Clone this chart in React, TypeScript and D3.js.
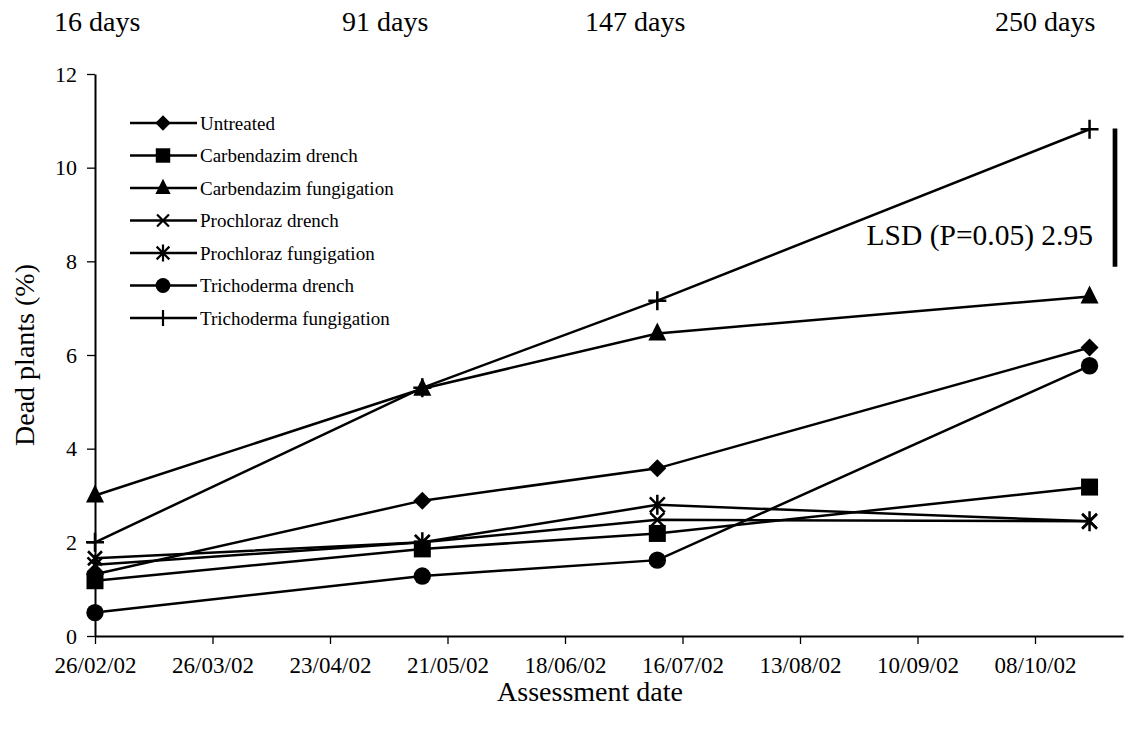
import React, { useEffect, useRef } from "react";
import * as d3 from "d3";

// Assessment dates and treatment series (% dead plants)
const assessmentDates = ["2002-02-26", "2002-05-15", "2002-07-10", "2002-10-21"];
const untreated = [1.32, 2.89, 3.58, 6.16];
const carbendazimDrench = [1.18, 1.86, 2.19, 3.18];
const carbendazimFungigation = [3.0, 5.28, 6.46, 7.25];
const prochlorazDrench = [1.66, 2.0, 2.48, 2.45];
const prochlorazFungigation = [1.52, 2.0, 2.8, 2.45];
const trichodermaDrench = [0.5, 1.28, 1.62, 5.77];
const trichodermaFungigation = [2.0, 5.3, 7.16, 10.82];

const seriesNames = [
  "Untreated",
  "Carbendazim drench",
  "Carbendazim fungigation",
  "Prochloraz drench",
  "Prochloraz fungigation",
  "Trichoderma drench",
  "Trichoderma fungigation",
];
const seriesValues = [
  untreated,
  carbendazimDrench,
  carbendazimFungigation,
  prochlorazDrench,
  prochlorazFungigation,
  trichodermaDrench,
  trichodermaFungigation,
];
const markerKinds = ["diamond", "square", "triangle", "x", "asterisk", "circle", "plus"];

const xTickDates = [
  "2002-02-26", "2002-03-26", "2002-04-23", "2002-05-21", "2002-06-18",
  "2002-07-16", "2002-08-13", "2002-09-10", "2002-10-08",
];
const yTicks = [0, 2, 4, 6, 8, 10, 12];
const dayLabels = ["16 days", "91 days", "147 days", "250 days"];
const lsdValue = 2.95;
const lsdCentre = 9.36;

const W = 1124;
const H = 731;
const FONT = "'Liberation Serif', 'Times New Roman', serif";

function markerPath(kind: string): { d: string; fill: boolean } {
  switch (kind) {
    case "diamond":
      return { d: "M0,-9L9,0L0,9L-9,0Z", fill: true };
    case "square":
      return { d: "M-8.5,-8.5H8.5V8.5H-8.5Z", fill: true };
    case "triangle":
      return { d: "M0,-11L9,7L-9,7Z", fill: true };
    case "circle":
      return {
        d: d3.arc()({ innerRadius: 0, outerRadius: 8.7, startAngle: 0, endAngle: 2 * Math.PI }) as string,
        fill: true,
      };
    case "x":
      return { d: "M-7,-7L7,7M-7,7L7,-7", fill: false };
    case "asterisk":
      return { d: "M-7.5,-7.5L7.5,7.5M-7.5,7.5L7.5,-7.5M0,-10V10", fill: false };
    case "plus":
      return { d: "M-9,0H9M0,-9.5V9.5", fill: false };
  }
  return { d: "", fill: true };
}

export default function App() {
  const ref = useRef<SVGSVGElement | null>(null);

  useEffect(() => {
    const svg = d3.select(ref.current);
    svg.selectAll("*").remove();

    const parse = d3.timeParse("%Y-%m-%d");
    const fmt = d3.timeFormat("%d/%m/%y");
    const x0 = parse("2002-02-26") as Date;
    const spanDays = 245;
    const pxPerDay = 117.5 / 28;
    const x1 = d3.timeDay.offset(x0, spanDays);

    const x = d3.scaleTime().domain([x0, x1]).range([95, 95 + spanDays * pxPerDay]);
    const y = d3.scaleLinear().domain([0, 12]).range([636, 74]);

    const g = svg.append("g");

    // Axes
    const xAxis = d3
      .axisBottom(x)
      .tickValues(xTickDates.map((s) => parse(s) as Date))
      .tickFormat((d) => fmt(d as Date))
      .tickSize(8)
      .tickSizeOuter(0);
    const gx = g.append("g").attr("transform", `translate(0,${y(0)})`).call(xAxis as any);
    gx.select(".domain").attr("stroke", "#000").attr("stroke-width", 2);
    gx.selectAll(".tick line").attr("stroke", "#000").attr("stroke-width", 1.3);
    gx.selectAll(".tick text")
      .attr("font-family", FONT)
      .attr("font-size", 23)
      .attr("fill", "#000")
      .attr("y", 37)
      .attr("dy", 0);

    const yAxis = d3.axisLeft(y).tickValues(yTicks).tickFormat(d3.format("d")).tickSize(8).tickSizeOuter(0);
    const gy = g.append("g").attr("transform", `translate(${x(x0)},0)`).call(yAxis as any);
    gy.select(".domain").attr("stroke", "#000").attr("stroke-width", 2);
    gy.selectAll(".tick line").attr("stroke", "#000").attr("stroke-width", 1.3);
    gy.selectAll(".tick text")
      .attr("font-family", FONT)
      .attr("font-size", 22)
      .attr("fill", "#000")
      .attr("x", -18);

    // Series lines and markers
    const dates = assessmentDates.map((s) => parse(s) as Date);
    const line = d3
      .line<number>()
      .x((_, i) => x(dates[i]))
      .y((v) => y(v));

    seriesValues.forEach((vals) => {
      g.append("path")
        .attr("d", line(vals) as string)
        .attr("fill", "none")
        .attr("stroke", "#000")
        .attr("stroke-width", 2.5);
    });

    seriesValues.forEach((vals, si) => {
      const m = markerPath(markerKinds[si]);
      vals.forEach((v, i) => {
        g.append("path")
          .attr("d", m.d)
          .attr("transform", `translate(${x(dates[i])},${y(v)})`)
          .attr("fill", m.fill ? "#000" : "none")
          .attr("stroke", "#000")
          .attr("stroke-width", m.fill ? 0 : 2.5);
      });
    });

    // Legend
    const lg = g.append("g");
    seriesNames.forEach((name, i) => {
      const ly = 123 + i * 32.5;
      lg.append("line")
        .attr("x1", 130)
        .attr("x2", 197)
        .attr("y1", ly)
        .attr("y2", ly)
        .attr("stroke", "#000")
        .attr("stroke-width", 2.5);
      const m = markerPath(markerKinds[i]);
      lg.append("path")
        .attr("d", m.d)
        .attr("transform", `translate(163,${ly}) scale(0.85)`)
        .attr("fill", m.fill ? "#000" : "none")
        .attr("stroke", "#000")
        .attr("stroke-width", m.fill ? 0 : 2.6);
      lg.append("text")
        .attr("x", 200)
        .attr("y", ly)
        .attr("dy", "0.35em")
        .attr("font-family", FONT)
        .attr("font-size", 19)
        .text(name);
    });

    // LSD bar
    g.append("line")
      .attr("x1", 1115)
      .attr("x2", 1115)
      .attr("y1", y(lsdCentre + lsdValue / 2))
      .attr("y2", y(lsdCentre - lsdValue / 2))
      .attr("stroke", "#000")
      .attr("stroke-width", 4.7);
    g.append("text")
      .attr("x", 1093)
      .attr("y", 245)
      .attr("text-anchor", "end")
      .attr("font-family", FONT)
      .attr("font-size", 29.5)
      .text(`LSD (P=0.05) ${lsdValue.toFixed(2)}`);

    // Days after treatment labels
    const dayX = [54, 342, 585, 995];
    dayLabels.forEach((t, i) => {
      g.append("text")
        .attr("x", dayX[i])
        .attr("y", 31)
        .attr("font-family", FONT)
        .attr("font-size", 28)
        .text(t);
    });

    // Axis titles
    g.append("text")
      .attr("transform", `translate(34,${y(6)}) rotate(-90)`)
      .attr("text-anchor", "middle")
      .attr("font-family", FONT)
      .attr("font-size", 28)
      .text("Dead plants (%)");
    g.append("text")
      .attr("x", 590)
      .attr("y", 701)
      .attr("text-anchor", "middle")
      .attr("font-family", FONT)
      .attr("font-size", 28)
      .text("Assessment date");
  }, []);

  return (
    <svg
      ref={ref}
      width={W}
      height={H}
      style={{ position: "absolute", left: 0, top: 0, background: "#fff" }}
    />
  );
}
